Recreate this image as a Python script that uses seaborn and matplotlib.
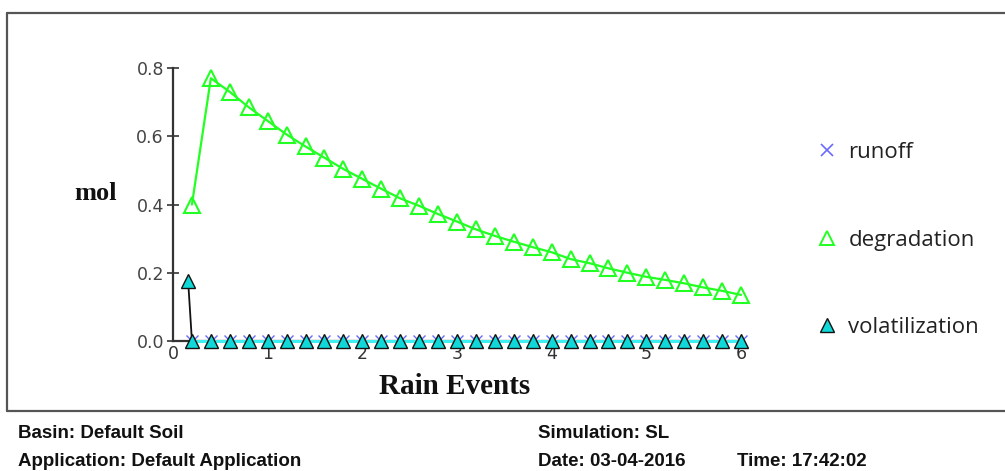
import numpy as np
import pandas as pd
import matplotlib
matplotlib.use("Agg")
import matplotlib.pyplot as plt
from matplotlib.lines import Line2D
import seaborn as sns

# ---- data ----
rain_events = [round(0.2 * i, 1) for i in range(1, 31)]
degradation = [0.40, 0.77, 0.73, 0.685, 0.645, 0.605, 0.57, 0.537, 0.504, 0.475,
               0.446, 0.418, 0.396, 0.372, 0.350, 0.327, 0.308, 0.291, 0.275, 0.260,
               0.240, 0.228, 0.213, 0.200, 0.188, 0.179, 0.169, 0.157, 0.147, 0.135]
runoff = [0.0] * 30
volat_events = [0.16] + rain_events
volatilization = [0.175] + [0.0] * 30
y_ticks = [0.0, 0.2, 0.4, 0.6, 0.8]
x_ticks = [0, 1, 2, 3, 4, 5, 6]
series_names = ["runoff", "degradation", "volatilization"]

df = pd.DataFrame({"x": rain_events, "degradation": degradation, "runoff": runoff})
dfv = pd.DataFrame({"x": volat_events, "volatilization": volatilization})

sns.set_theme(style="white")
plt.rcParams["font.family"] = ["DejaVu Sans"]

fig = plt.figure(figsize=(10.05, 4.71), dpi=100)
ax = fig.add_axes([173 / 1005, 1 - 341 / 471, (741 - 173) / 1005, (341 - 68) / 471])

LIME = "#22ff22"
CYAN = "#10d8d8"
BLUE = "#6a6aff"

# volatilization connecting line (black)
sns.lineplot(data=dfv, x="x", y="volatilization", ax=ax, color="#111111", lw=1.3,
             clip_on=False, zorder=3)
# runoff (cyan baseline, blue x markers)
sns.lineplot(data=df, x="x", y="runoff", ax=ax, color="#40f0f0", lw=2.2,
             marker="x", markersize=8, markeredgecolor=BLUE, markeredgewidth=1.0,
             clip_on=False, zorder=4)
# volatilization markers on top
sns.lineplot(data=dfv, x="x", y="volatilization", ax=ax, lw=0,
             marker="^", markersize=10, markerfacecolor=CYAN, markeredgecolor="#111111",
             markeredgewidth=1.0, clip_on=False, zorder=5)
# degradation (lime hollow triangles)
sns.lineplot(data=df, x="x", y="degradation", ax=ax, color=LIME, lw=1.6,
             marker="^", markersize=11, markerfacecolor="none", markeredgecolor=LIME,
             markeredgewidth=1.5, clip_on=False, zorder=6)

ax.set_xlim(0, 6)
ax.set_ylim(0, 0.8)
ax.set_yticks(y_ticks)
ax.set_yticklabels([f"{v:.1f}" for v in y_ticks])
ax.set_xticks(x_ticks)
ax.set_xticklabels([str(v) for v in x_ticks])
for s in ["top", "right"]:
    ax.spines[s].set_visible(False)
for s in ["left", "bottom"]:
    ax.spines[s].set_color("#333333")
    ax.spines[s].set_linewidth(1.6)
ax.tick_params(axis="y", direction="inout", length=9, width=1.3, colors="#444444",
               labelsize=12.5, pad=2, left=True)
ax.tick_params(axis="x", length=0, colors="#333333", labelsize=12.5, pad=3)
ax.set_xlabel("")
ax.set_ylabel("")
ax.grid(False)

fig.text(96 / 1005, 1 - 194 / 471, "mol", family="Liberation Serif", fontweight="bold",
         fontsize=19, color="#111111", ha="center", va="center")
fig.text(455 / 1005, 1 - 386 / 471, "Rain Events", family="Liberation Serif",
         fontweight="bold", fontsize=21, color="#111111", ha="center", va="center")

# legend
handles = [
    Line2D([], [], lw=0, marker="x", markersize=8, markeredgecolor=BLUE, markeredgewidth=1.2),
    Line2D([], [], lw=0, marker="^", markersize=10, markerfacecolor="none",
           markeredgecolor=LIME, markeredgewidth=1.4),
    Line2D([], [], lw=0, marker="^", markersize=10, markerfacecolor=CYAN,
           markeredgecolor="#111111", markeredgewidth=1.0),
]
leg = fig.legend(handles, series_names, loc="center left",
                 bbox_to_anchor=(804 / 1005, 1 - 240 / 471), frameon=False,
                 prop={"family": "Open Sans", "size": 16}, labelspacing=3.0,
                 handletextpad=0.4, handlelength=1.1, borderpad=0)
for t in leg.get_texts():
    t.set_color("#222222")

# frame lines
fc = "#555555"
x0 = 7 / 1005
ytop = 1 - 13 / 471
ybot = 1 - 411 / 471
fig.add_artist(Line2D([x0, 1.0], [ytop, ytop], color=fc, lw=1.6, transform=fig.transFigure))
fig.add_artist(Line2D([x0, x0], [ybot, ytop], color=fc, lw=1.6, transform=fig.transFigure))
fig.add_artist(Line2D([x0, 1.0], [ybot, ybot], color=fc, lw=1.6, transform=fig.transFigure))

# footer
foot = dict(family=["Liberation Sans"], fontweight="bold",
            fontsize=13.5, color="#111111", va="center", ha="left")
fig.text(18 / 1005, 1 - 433 / 471, "Basin: Default Soil", **foot)
fig.text(18 / 1005, 1 - 461 / 471, "Application: Default Application", **foot)
fig.text(538 / 1005, 1 - 433 / 471, "Simulation: SL", **foot)
fig.text(538 / 1005, 1 - 461 / 471, "Date: 03-04-2016", **foot)
fig.text(737 / 1005, 1 - 461 / 471, "Time: 17:42:02", **foot)

fig.savefig("out.png", dpi=100)
